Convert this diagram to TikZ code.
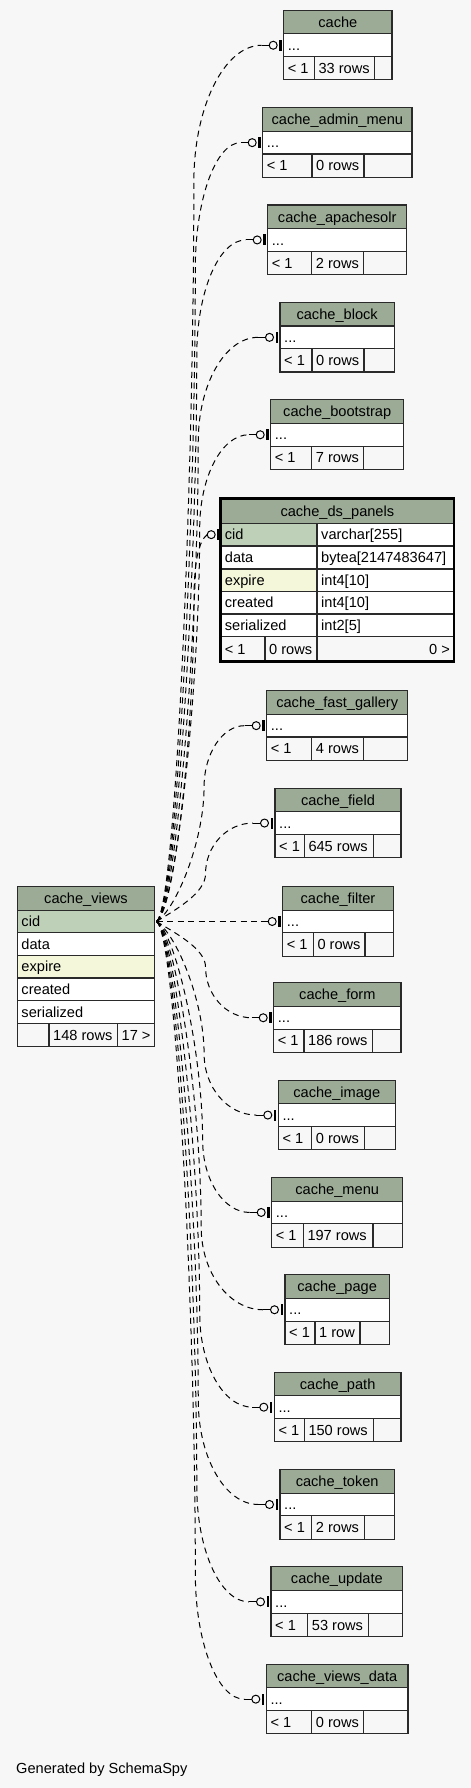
\documentclass[tikz,border=0pt]{standalone}
\usepackage{fontspec}
\setmainfont{Liberation Sans}
\usetikzlibrary{calc}
\definecolor{bg}{HTML}{F7F7F7}
\definecolor{hdr}{HTML}{9BAB96}
\definecolor{pk}{HTML}{BED1B8}
\definecolor{idx}{HTML}{F4F7DA}
\definecolor{bord}{HTML}{2A2A2A}
\tikzset{
  txt/.style={inner sep=0pt, font=\fontsize{14.6bp}{17bp}\selectfont, text=black},
  cellbox/.style={draw=bord, line width=1.1bp},
  rel/.style={draw=black, line width=1bp, dash pattern=on 6bp off 4.5bp},
  tip/.style={draw=black, line width=1bp},
}
\newcommand{\tcell}[8]{%
  \filldraw[cellbox, fill=#6] (#2,#3) rectangle (#4,#5);
  \if l#7\node[txt, anchor=base west] (#1) at ({#2+4},{(#3+#5)/2+5.2}) {#8};\fi
  \if c#7\node[txt, anchor=base] (#1) at ({(#2+#4)/2},{(#3+#5)/2+5.2}) {#8};\fi
  \if r#7\node[txt, anchor=base east] (#1) at ({#4-4},{(#3+#5)/2+5.2}) {#8};\fi
}
\newcommand{\bcell}[5]{\filldraw[cellbox, fill=#5] (#1,#2) rectangle (#3,#4);}
\newcommand{\child}[8]{%
  \pgfmathsetmacro\ya{#3+23.6}%
  \pgfmathsetmacro\yb{\ya+22.7}%
  \pgfmathsetmacro\yc{\yb+23.3}%
  \tcell{#1-h}{#4}{#3}{#5}{\ya}{hdr}{c}{#2}
  \tcell{#1-r1}{#4}{\ya}{#5}{\yb}{white}{l}{...}
  \tcell{#1-p}{#4}{\yb}{#6}{\yc}{bg}{l}{< 1}
  \tcell{#1-n}{#6}{\yb}{#7}{\yc}{bg}{l}{#8}
  \bcell{#7}{\yb}{#5}{\yc}{bg}
  \coordinate (#1-in) at (#4,{(\ya+\yb)/2});
}
\begin{document}
\begin{tikzpicture}[x=1bp,y=-1bp]
\fill[bg] (0,0) rectangle (471,1788);
\useasboundingbox (0,0) rectangle (471,1788);

% child tables
\child{c1}{cache}{10.3}{283.7}{392}{314.3}{374.7}{33 rows}
\child{c2}{cache\_admin\_menu}{107.7}{262.7}{412}{312}{364}{0 rows}
\child{c3}{cache\_apachesolr}{205}{267.7}{406.7}{311.7}{363.7}{2 rows}
\child{c4}{cache\_block}{302.4}{280}{394.3}{312}{364}{0 rows}
\child{c5}{cache\_bootstrap}{399.8}{270.7}{403.7}{311.7}{363.7}{7 rows}
\child{c7}{cache\_fast\_gallery}{690.7}{266.7}{407.7}{311.7}{363.7}{4 rows}
\child{c8}{cache\_field}{788.1}{275}{401}{304.3}{373.3}{645 rows}
\child{c9}{cache\_filter}{886.55}{282.7}{393.3}{313.3}{365}{0 rows}
\child{c10}{cache\_form}{982.8}{273.7}{401}{304}{372.3}{186 rows}
\child{c11}{cache\_image}{1080.1}{278.3}{395.3}{311.7}{364.3}{0 rows}
\child{c12}{cache\_menu}{1177.5}{271.7}{402.7}{303.3}{373}{197 rows}
\child{c13}{cache\_page}{1274.8}{285}{389.3}{315}{360}{1 row}
\child{c14}{cache\_path}{1372.2}{274.3}{401}{304.3}{373.3}{150 rows}
\child{c15}{cache\_token}{1469.5}{280}{394.3}{311.7}{364.3}{2 rows}
\child{c16}{cache\_update}{1566.9}{271}{402.7}{307.7}{368.3}{53 rows}
\child{c17}{cache\_views\_data}{1664.2}{266.3}{408}{311.7}{363.7}{0 rows}

% cache_ds_panels
\tcell{c6-h}{220.7}{498.3}{454}{523.3}{hdr}{c}{cache\_ds\_panels}
\tcell{c6-c1}{220.7}{523.3}{317}{546}{pk}{l}{cid}
\tcell{c6-t1}{317}{523.3}{454}{546}{white}{l}{varchar[255]}
\tcell{c6-c2}{220.7}{546}{317}{569}{white}{l}{data}
\tcell{c6-t2}{317}{546}{454}{569}{white}{l}{bytea[2147483647]}
\tcell{c6-c3}{220.7}{569}{317}{591.3}{idx}{l}{expire}
\tcell{c6-t3}{317}{569}{454}{591.3}{white}{l}{int4[10]}
\tcell{c6-c4}{220.7}{591.3}{317}{614}{white}{l}{created}
\tcell{c6-t4}{317}{591.3}{454}{614}{white}{l}{int4[10]}
\tcell{c6-c5}{220.7}{614}{317}{636.7}{white}{l}{serialized}
\tcell{c6-t5}{317}{614}{454}{636.7}{white}{l}{int2[5]}
\tcell{c6-p}{220.7}{636.7}{265}{661.7}{bg}{l}{< 1}
\tcell{c6-n}{265}{636.7}{317}{661.7}{bg}{l}{0 rows}
\tcell{c6-k}{317}{636.7}{454}{661.7}{bg}{r}{0 >}
\draw[draw=black, line width=2.7bp] (220.7,498.3) rectangle (454,661.7);
\coordinate (c6-in) at (220.7,534.65);

% cache_views
\tcell{cv-h}{17.3}{886.7}{154.7}{910.3}{hdr}{c}{cache\_views}
\tcell{cv-c1}{17.3}{910.3}{154.7}{932.7}{pk}{l}{cid}
\tcell{cv-c2}{17.3}{932.7}{154.7}{955.3}{white}{l}{data}
\tcell{cv-c3}{17.3}{955.3}{154.7}{978}{idx}{l}{expire}
\tcell{cv-c4}{17.3}{978}{154.7}{1000.7}{white}{l}{created}
\tcell{cv-c5}{17.3}{1000.7}{154.7}{1023.3}{white}{l}{serialized}
\bcell{17.3}{1023.3}{49}{1046.7}{bg}
\tcell{cv-n}{49}{1023.3}{117.3}{1046.7}{bg}{l}{148 rows}
\tcell{cv-k}{117.3}{1023.3}{154.7}{1046.7}{bg}{r}{17 >}
\coordinate (cvout) at (156.5,921.5);

% relationships
\foreach \id/\ye in {c1/45.25, c2/142.65, c3/239.95, c4/337.35, c5/434.75, c7/725.65, c8/823.05,
  c10/1017.75, c11/1115.05, c12/1212.45, c13/1309.75, c14/1407.15, c15/1504.45, c16/1601.85, c17/1699.15}{
  \path (\id-in); \pgfgetlastxy{\Lx}{\Ly}
  \pgfmathsetmacro\L{\Lx/1.00375}
  \pgfmathsetmacro\dist{abs(\ye-921.5)}
  \pgfmathsetmacro\sg{ifthenelse(\ye>921.5,1,-1)}
  \pgfmathsetmacro\dv{40+0.11*\dist}
  \pgfmathsetmacro\X{207-0.015*\dist}
  \pgfmathsetmacro\yb{\ye-\sg*\dv}
  \pgfmathsetmacro\ca{921.5+\sg*12}
  \pgfmathsetmacro\cb{\yb-\sg*0.4*abs(\yb-921.5)}
  \pgfmathsetmacro\cc{\yb+\sg*0.55*\dv}
  \pgfmathsetmacro\xe{\L-22}
  \pgfmathsetmacro\cd{\X+0.45*(\xe-\X)}
  \draw[rel] (cvout) .. controls (176,\ca) and (\X,\cb) .. (\X,\yb)
     .. controls (\X,\cc) and (\cd,\ye) .. ($(\id-in)+(-22,0)$);
}
\draw[rel] (cvout) -- ($(c9-in)+(-22,0)$);
\draw[rel] (cvout) .. controls (176,909.5) and (194,720) .. (194,600)
   .. controls (194,560) and (199,541) .. ($(c6-in)+(-13.5,0)$);

% end marks (zero or one)
\foreach \id in {c1,c2,c3,c4,c5,c7,c8,c9,c10,c11,c12,c13,c14,c15,c16,c17}{
  \draw[tip] ($(\id-in)+(-22,0)$) -- ($(\id-in)+(-14.5,0)$);
  \draw[tip, fill=bg] ($(\id-in)+(-10.5,0)$) circle[radius=4bp];
  \fill[black] ($(\id-in)+(-4.4,-5.5)$) rectangle ($(\id-in)+(-1.9,5.5)$);
}
\draw[tip, fill=bg] ($(c6-in)+(-9.5,0)$) circle[radius=4bp];
\fill[black] ($(c6-in)+(-4,-5.5)$) rectangle ($(c6-in)+(-1.5,5.5)$);

\node[txt, anchor=base west] (gen) at (16,1773) {Generated by SchemaSpy};
\end{tikzpicture}
\end{document}
